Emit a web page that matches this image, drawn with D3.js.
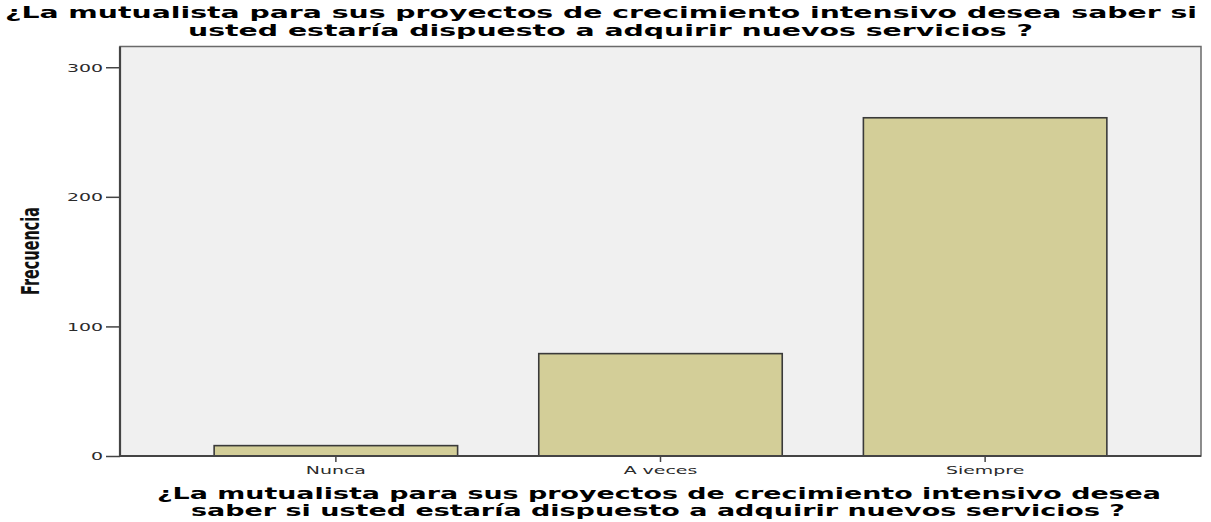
<!DOCTYPE html>
<html>
<head>
<meta charset="utf-8">
<script src="https://cdn.jsdelivr.net/npm/d3@7"></script>
<style>
  body { margin: 0; background: #fff; }
  svg { display: block; }
</style>
</head>
<body>
<script>
const categories = ['Nunca', 'A veces', 'Siempre']
const frecuencias = [8, 79, 261]
const yTicks = [0, 100, 200, 300]
const yLabel = 'Frecuencia'
const titleLines = [
  '¿La mutualista para sus proyectos de crecimiento intensivo desea saber si',
  'usted estaría dispuesto a adquirir nuevos servicios ?'
]
const xTitleLines = [
  '¿La mutualista para sus proyectos de crecimiento intensivo desea',
  'saber si usted estaría dispuesto a adquirir nuevos servicios ?'
]

const w = 1211
const h = 522
const plotL = 120, plotR = 1201, plotT = 46.5, plotB = 456
const sx = 1.72   // the picture is stretched sideways

const data = categories.map((c, i) => ({ cat: c, n: frecuencias[i] }))

const svg = d3.select('body')
  .append('svg')
  .attr('width', w)
  .attr('height', h)

const xScale = d3.scaleBand()
  .domain(categories)
  .range([plotL, plotR])
  .paddingInner(0.25)
  .paddingOuter(0.29)

const yScale = d3.scaleLinear()
  .domain([0, 316])
  .range([plotB, plotT])

// plot background
svg.append('rect')
  .attr('x', plotL)
  .attr('y', plotT)
  .attr('width', plotR - plotL)
  .attr('height', plotB - plotT)
  .attr('fill', '#f0f0f0')
  .attr('stroke', '#6a6a6a')
  .attr('stroke-width', 1.5)

// bars
svg.selectAll('.bar')
  .data(data)
  .enter()
  .append('rect')
  .attr('class', 'bar')
  .attr('x', d => xScale(d.cat))
  .attr('y', d => yScale(d.n))
  .attr('width', xScale.bandwidth())
  .attr('height', d => yScale(0) - yScale(d.n))
  .attr('fill', '#d3ce98')
  .attr('stroke', '#3a3a3a')
  .attr('stroke-width', 1.6)

// axes
const yAxis = d3.axisLeft(yScale)
  .tickValues(yTicks)
  .tickSize(14)
  .tickSizeOuter(0)

const xAxis = d3.axisBottom(xScale)
  .tickSize(6)
  .tickSizeOuter(0)

const gy = svg.append('g')
  .attr('transform', 'translate(' + plotL + ',0)')
  .call(yAxis)

gy.select('.domain').remove()
gy.selectAll('line').attr('stroke', '#444').attr('stroke-width', 1.5)
gy.selectAll('text')
  .attr('x', 0)
  .attr('dy', '0.36em')
  .attr('transform', 'translate(-17,0) scale(' + sx + ',1)')
  .attr('fill', '#2a2a2a')
  .style('font-family', 'DejaVu Sans')
  .style('font-size', '11px')

const gx = svg.append('g')
  .attr('transform', 'translate(0,' + plotB + ')')
  .call(xAxis)

gx.select('.domain').remove()
gx.selectAll('line').attr('stroke', '#444').attr('stroke-width', 1.5)
gx.selectAll('text')
  .attr('y', 0)
  .attr('dy', 0)
  .attr('transform', 'translate(0,18) scale(' + sx + ',1)')
  .attr('fill', '#2a2a2a')
  .style('font-family', 'DejaVu Sans')
  .style('font-size', '11px')

// axis lines on top
svg.append('line')
  .attr('x1', plotL).attr('x2', plotL)
  .attr('y1', plotT).attr('y2', plotB)
  .attr('stroke', '#444').attr('stroke-width', 2.2)

svg.append('line')
  .attr('x1', plotL).attr('x2', plotR)
  .attr('y1', plotB).attr('y2', plotB)
  .attr('stroke', '#444').attr('stroke-width', 2.2)

// y label
svg.append('text')
  .attr('transform', 'translate(39,251) scale(' + sx + ',1) rotate(-90)')
  .attr('text-anchor', 'middle')
  .attr('textLength', 88)
  .attr('lengthAdjust', 'spacingAndGlyphs')
  .style('font-family', 'DejaVu Sans')
  .style('font-weight', 'bold')
  .style('font-size', '14px')
  .attr('fill', '#111')
  .text(yLabel)

// titles
const titleFont = (sel) => sel
  .style('font-family', 'DejaVu Sans')
  .style('font-weight', 'bold')
  .style('font-size', '16px')
  .attr('fill', '#000')
  .attr('lengthAdjust', 'spacingAndGlyphs')

const topSpots = [{ x: 5, y: 18, len: 1192 }, { x: 188, y: 36, len: 845 }]
svg.selectAll('.title')
  .data(titleLines)
  .enter()
  .append('text')
  .attr('class', 'title')
  .attr('x', (d, i) => topSpots[i].x)
  .attr('y', (d, i) => topSpots[i].y)
  .attr('textLength', (d, i) => topSpots[i].len)
  .call(titleFont)
  .text(d => d)

const botSpots = [{ x: 157, y: 499, len: 1004 }, { x: 191, y: 516, len: 934 }]
svg.selectAll('.xtitle')
  .data(xTitleLines)
  .enter()
  .append('text')
  .attr('class', 'xtitle')
  .attr('x', (d, i) => botSpots[i].x)
  .attr('y', (d, i) => botSpots[i].y)
  .attr('textLength', (d, i) => botSpots[i].len)
  .call(titleFont)
  .text(d => d)
</script>
</body>
</html>
